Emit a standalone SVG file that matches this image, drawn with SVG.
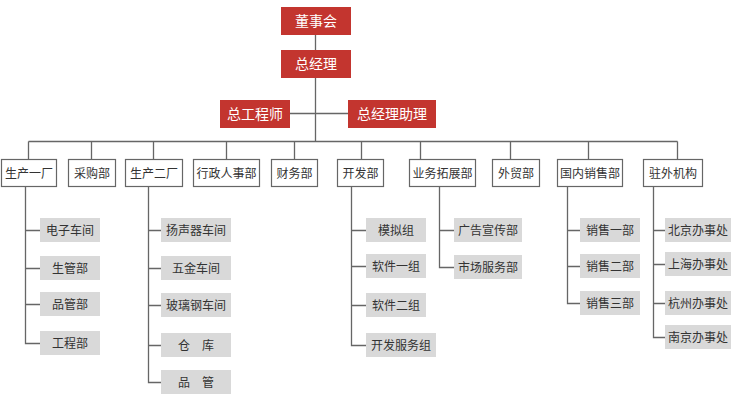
<svg xmlns="http://www.w3.org/2000/svg" width="732" height="400" viewBox="0 0 732 400">
<style>
.red rect{fill:#c3352f}
.red text{fill:#fff;font-size:14px}
.top rect{fill:#fff;stroke:#666;stroke-width:1.2}
.sub rect{fill:#d9d9d9}
text{font-family:"Noto Sans CJK SC","Noto Sans",sans-serif;font-size:12px;fill:#333;text-anchor:middle}
#connectors path{fill:none;stroke:#666;stroke-width:1.3}
</style>
<rect width="732" height="400" fill="#fff"/>
<g id="connectors">
<path d="M315.5 35V50M315.5 78V141.5M290 113.5H348"/>
<path d="M28.5 141.5H677.5M28.5 141.5V159M91.5 141.5V159M153.5 141.5V159M226.5 141.5V159M294.5 141.5V159M361.5 141.5V159M420.5 141.5V159M510.5 141.5V159M588.5 141.5V159M677.5 141.5V159"/>
<path d="M25.5 186V343.5H40M25.5 230.5H40M25.5 268.5H40M25.5 304.5H40"/>
<path d="M148.5 186V382.5H161M148.5 230.5H161M148.5 268.5H161M148.5 305.5H161M148.5 345.5H161"/>
<path d="M351.5 186V345.5H366M351.5 230.5H366M351.5 266.5H366M351.5 305.5H366"/>
<path d="M439.5 186V267.5H454M439.5 230.5H454"/>
<path d="M567.5 186V303.5H580M567.5 230.5H580M567.5 266.5H580"/>
<path d="M653.5 186V337.5H665M653.5 230.5H665M653.5 264.5H665M653.5 303.5H665"/>
</g>
<g id="n-dongshihui" class="red"><rect x="281" y="7" width="70" height="28"/><text x="316" y="26.3">董事会</text></g>
<g id="n-zongjingli" class="red"><rect x="281" y="50" width="70" height="28"/><text x="316" y="69.3">总经理</text></g>
<g id="n-zonggongchengshi" class="red"><rect x="220" y="100" width="70" height="28"/><text x="255" y="119.3">总工程师</text></g>
<g id="n-zongjinglizhuli" class="red"><rect x="348" y="100" width="88" height="28"/><text x="392" y="119.3">总经理助理</text></g>

<g id="n-shengchan1" class="top"><rect x="1.5" y="159.5" width="55" height="27"/><text x="29" y="177.5">生产一厂</text></g>
<g id="n-caigou" class="top"><rect x="68.5" y="159.5" width="47" height="27"/><text x="92" y="177.5">采购部</text></g>
<g id="n-shengchan2" class="top"><rect x="125.5" y="159.5" width="57" height="27"/><text x="154" y="177.5">生产二厂</text></g>
<g id="n-xingzheng" class="top"><rect x="193.5" y="159.5" width="66" height="27"/><text x="226.5" y="177.5">行政人事部</text></g>
<g id="n-caiwu" class="top"><rect x="271.5" y="159.5" width="46" height="27"/><text x="294.5" y="177.5">财务部</text></g>
<g id="n-kaifa" class="top"><rect x="337.5" y="159.5" width="46" height="27"/><text x="360.5" y="177.5">开发部</text></g>
<g id="n-yewu" class="top"><rect x="409.5" y="159.5" width="66" height="27"/><text x="442.5" y="177.5">业务拓展部</text></g>
<g id="n-waimao" class="top"><rect x="492.5" y="159.5" width="47" height="27"/><text x="516" y="177.5">外贸部</text></g>
<g id="n-guonei" class="top"><rect x="557.5" y="159.5" width="65" height="27"/><text x="590" y="177.5">国内销售部</text></g>
<g id="n-zhuwai" class="top"><rect x="643.5" y="159.5" width="59" height="27"/><text x="673" y="177.5">驻外机构</text></g>

<g id="n-dianzi" class="sub"><rect x="40" y="218" width="60" height="24"/><text x="70" y="234.5">电子车间</text></g>
<g id="n-shengguan" class="sub"><rect x="40" y="256" width="60" height="24"/><text x="70" y="272.5">生管部</text></g>
<g id="n-pinguanbu" class="sub"><rect x="40" y="292" width="60" height="24"/><text x="70" y="308.5">品管部</text></g>
<g id="n-gongcheng" class="sub"><rect x="40" y="331" width="60" height="24"/><text x="70" y="347.5">工程部</text></g>

<g id="n-yangshengqi" class="sub"><rect x="161" y="218" width="70" height="24"/><text x="196" y="234.5">扬声器车间</text></g>
<g id="n-wujin" class="sub"><rect x="161" y="256" width="70" height="24"/><text x="196" y="272.5">五金车间</text></g>
<g id="n-boli" class="sub"><rect x="161" y="293" width="70" height="24"/><text x="196" y="309.5">玻璃钢车间</text></g>
<g id="n-cangku" class="sub"><rect x="161" y="333" width="70" height="24"/><text x="196" y="349.5">仓　库</text></g>
<g id="n-pinguan" class="sub"><rect x="161" y="370" width="70" height="24"/><text x="196" y="386.5">品　管</text></g>

<g id="n-moni" class="sub"><rect x="366" y="218" width="60" height="24"/><text x="396" y="234.5">模拟组</text></g>
<g id="n-ruanjian1" class="sub"><rect x="366" y="254" width="60" height="24"/><text x="396" y="270.5">软件一组</text></g>
<g id="n-ruanjian2" class="sub"><rect x="366" y="293" width="60" height="24"/><text x="396" y="309.5">软件二组</text></g>
<g id="n-kaifafuwu" class="sub"><rect x="366" y="333" width="70" height="24"/><text x="401" y="349.5">开发服务组</text></g>

<g id="n-guanggao" class="sub"><rect x="454" y="218" width="68" height="24"/><text x="488" y="234.5">广告宣传部</text></g>
<g id="n-shichang" class="sub"><rect x="454" y="255" width="68" height="24"/><text x="488" y="271.5">市场服务部</text></g>

<g id="n-xiaoshou1" class="sub"><rect x="580" y="218" width="60" height="24"/><text x="610" y="234.5">销售一部</text></g>
<g id="n-xiaoshou2" class="sub"><rect x="580" y="254" width="60" height="24"/><text x="610" y="270.5">销售二部</text></g>
<g id="n-xiaoshou3" class="sub"><rect x="580" y="291" width="60" height="24"/><text x="610" y="307.5">销售三部</text></g>

<g id="n-beijing" class="sub"><rect x="665" y="218" width="66" height="24"/><text x="698" y="234.5">北京办事处</text></g>
<g id="n-shanghai" class="sub"><rect x="665" y="252" width="66" height="24"/><text x="698" y="268.5">上海办事处</text></g>
<g id="n-hangzhou" class="sub"><rect x="665" y="291" width="66" height="24"/><text x="698" y="307.5">杭州办事处</text></g>
<g id="n-nanjing" class="sub"><rect x="665" y="325" width="66" height="24"/><text x="698" y="341.5">南京办事处</text></g>
</svg>
